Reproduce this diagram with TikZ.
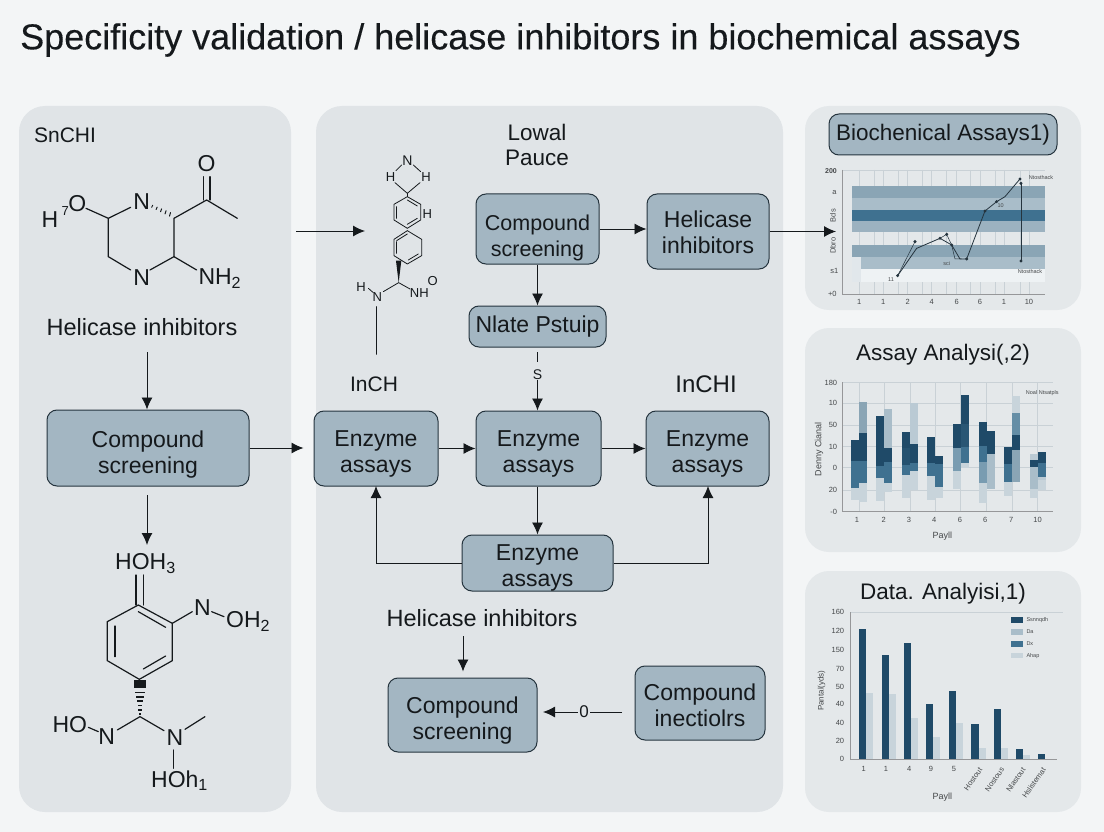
\documentclass[tikz,border=0pt]{standalone}
\usepackage{fontspec}
\setmainfont{Liberation Sans}
\newfontfamily\titlefont[FakeBold=0.25]{Liberation Sans}
\usetikzlibrary{arrows.meta,calc}
\definecolor{pagebg}{HTML}{F3F5F6}
\definecolor{panelbg}{HTML}{E0E4E7}
\definecolor{rightbg}{HTML}{E4E8EA}
\definecolor{boxfill}{HTML}{A3B6C2}
\definecolor{boxline}{HTML}{25343E}
\definecolor{ink}{HTML}{15191C}
\definecolor{cA}{HTML}{1F4A68}
\definecolor{cB}{HTML}{3F7190}
\definecolor{cC}{HTML}{8AA5B5}
\definecolor{cD}{HTML}{A9BDC9}
\definecolor{cE}{HTML}{C8D4DB}
\definecolor{grid}{HTML}{C9D1D6}
\tikzset{
  panel/.style={fill=panelbg,draw=none,rounded corners=26pt},
  rpanel/.style={fill=rightbg,draw=none,rounded corners=24pt},
  stepbox/.style={draw=boxline,line width=1pt,fill=boxfill,rounded corners=10pt,align=center,text=ink,inner sep=0pt,font=\fontsize{23}{26}\selectfont},
  lbl/.style={text=ink,inner sep=0pt,align=center,font=\fontsize{23.5}{25}\selectfont},
  lblsm/.style={text=ink,inner sep=0pt,align=center,font=\fontsize{21}{25}\selectfont},
  atom/.style={text=ink,inner sep=0pt,font=\fontsize{23}{25}\selectfont},
  atoms/.style={text=ink,inner sep=0pt,font=\fontsize{13}{15}\selectfont},
  conn/.style={draw=ink,line width=0.95pt,-{Latex[length=12pt,width=11pt]}},
  bond/.style={draw=ink,line width=1.2pt,line cap=round},
  bonds/.style={draw=ink,line width=0.8pt,line cap=round},
  tick/.style={text=ink!80,inner sep=0pt,font=\fontsize{7.5}{9}\selectfont},
  tiny/.style={text=ink!80,inner sep=0pt,font=\fontsize{5.5}{7}\selectfont},
  charttitle/.style={text=ink,inner sep=0pt,font=\fontsize{22.5}{25}\selectfont},
  gridl/.style={draw=grid,line width=0.5pt},
  axisl/.style={draw=ink!45,line width=0.6pt},
}
\newcommand{\sbar}[5]{\fill[#5] (#1,#3) rectangle (#2,#4);}
\newcommand{\dn}[1]{\rule{0pt}{\dimexpr 17pt+#1pt+#1pt\relax}}
\begin{document}
\begin{tikzpicture}[x=1pt,y=-1pt]
\useasboundingbox (0,0) rectangle (1104,832);
\fill[pagebg] (0,0) rectangle (1104,832);
\node[text=ink,inner sep=0pt,anchor=west,font=\titlefont\fontsize{36}{38}\selectfont] (title) at (20,40) {Specificity validation / helicase inhibitors in biochemical assays};

\fill[panel] (19,106) rectangle (291,812);
\fill[panel] (316,106) rectangle (783,812);
\fill[rpanel] (805,106) rectangle (1081,310);
\fill[rpanel] (805,328) rectangle (1081,552);
\fill[rpanel] (805,571) rectangle (1081,812);

% labels
\node[lblsm] (sn) at (65,135) {SnCHI};
\node[lbl] (hi1) at (142,327) {Helicase inhibitors};
\node[lbl,font=\fontsize{22.5}{25.5}\selectfont] (lowal) at (537,145) {Lowal\\Pauce};
\node[lblsm] (inch) at (374,384) {InCH};
\node[lbl,font=\fontsize{24}{25}\selectfont] (inchi) at (706,384) {InCHI};
\node[lbl] (hi2) at (482,618) {Helicase inhibitors};

% step boxes
\node[stepbox,minimum width=202pt,minimum height=76pt] (cs1) at (148,448) {\dn{6}Compound\\screening};
\node[stepbox,minimum width=124pt,minimum height=75pt] (e1) at (376,448.5) {\dn{5}Enzyme\\assays};
\node[stepbox,minimum width=125pt,minimum height=75pt] (e2) at (538.5,448.5) {\dn{5}Enzyme\\assays};
\node[stepbox,minimum width=123pt,minimum height=75pt] (e3) at (707.5,448.5) {\dn{5}Enzyme\\assays};
\node[stepbox,minimum width=123pt,minimum height=70pt,font=\fontsize{21.5}{25.5}\selectfont] (cs2) at (537.5,229) {\dn{8}Compound\\screening};
\node[stepbox,minimum width=122pt,minimum height=75pt] (hb) at (708,231.5) {\dn{1}Helicase\\inhibitors};
\node[stepbox,minimum width=137pt,minimum height=41pt] (np) at (537.5,326.5) {Nlate Pstuip};
\node[stepbox,minimum width=151pt,minimum height=56pt] (e4) at (537.5,563) {\dn{4}Enzyme\\assays};
\node[stepbox,minimum width=149pt,minimum height=74pt] (cs3) at (462.5,715) {\dn{5}Compound\\screening};
\node[stepbox,minimum width=130pt,minimum height=74pt] (ci) at (700,703) {\dn{2}Compound\\inectiolrs};
\node[stepbox,minimum width=228pt,minimum height=41pt,font=\fontsize{22.5}{25}\selectfont] (ba) at (943,134.5) {Biochenical Assays1)};

% connectors
\coordinate (m2tip) at (365,231);
\coordinate (m2tail) at (296,231);
\coordinate (charttip) at (836,231.5);
\coordinate (lowtip) at (147,545);
\coordinate (lowtail) at (147,495);
\coordinate (hi1a) at (147,352);
\coordinate (e1bt) at (376,486);
\coordinate (e3bt) at (708,486);
\draw[conn] (hi1a) -- (cs1.north -| hi1a);
\draw[conn] (lowtail) -- (lowtip);
\draw[conn,shorten >=10pt] (cs1.east) -- (cs1.east -| e1.west);
\draw[conn] (m2tail) -- (m2tip);
\draw[conn] (e1.east) -- (e2.west);
\draw[conn] (e2.east) -- (e3.west);
\draw[conn] (cs2.east) -- (cs2.east -| hb.west);
\draw[conn] (hb.east) -- (charttip);
\draw[conn] (cs2.south -| np.north) -- (np.north);
\node[inner sep=0pt,text=ink,font=\fontsize{14}{15}\selectfont] (sq) at (537.5,375) {S};
\draw[line width=1pt,draw=ink] (537.5,352) -- (537.5,362);
\draw[conn] (sq.south) -- (sq.south |- e2.north);
\draw[conn] (e2.south -| e4.north) -- (e4.north);
\draw[conn] (e4.west) -| (e1bt);
\draw[conn] (e4.east) -| (e3bt);
\coordinate (hi2a) at (463,636);
\draw[conn,shorten >=6pt] (hi2a) -- (hi2a |- cs3.north);
\node[inner sep=1.5pt,fill=panelbg,text=ink,font=\fontsize{17}{19}\selectfont] (zero) at (584,712) {0};
\coordinate (citail) at (622,712);
\coordinate (cshead) at (543,712);
\draw[draw=ink,line width=0.95pt] (citail) -- (zero);
\draw[conn] (zero) -- (cshead);

% molecule 1
\begin{scope}[shift={(0,100)},x=0.3333pt,y=-0.3333pt]
\draw[bond] (258,325) -- (325,355) -- (392,322);
\draw[bond] (325,355) -- (325,470) -- (392,510);
\draw[bond] (450,510) -- (522,470) -- (522,355) -- (620,300) -- (712,355);
\draw[bond] (522,470) -- (590,510);
\draw[bond] (611,300) -- (611,230);
\draw[bond] (630,300) -- (630,230);
\foreach \t in {0,0.2,0.4,0.6,0.8}{
  \draw[bond,line width=1pt] ($(455,322)!\t!(522,355)$) -- ++(3,{-6-6*\t});
}
\node[atom] (m1o) at (232,310) {O};
\node[atom] (m1h) at (150,358) {H};
\node[atoms] (m1s) at (196,334) {7};
\node[atom] (m1n1) at (425,305) {N};
\node[atom] (m1n2) at (425,532) {N};
\node[atom,anchor=west] (m1nh) at (595,535) {NH\textsubscript{2}};
\node[atom] (m1o2) at (620,190) {O};
\end{scope}

% molecule 2
\begin{scope}[shift={(300,110)},x=0.3333pt,y=-0.3333pt]
\draw[bonds] (305,165) -- (288,182);
\draw[bonds] (340,165) -- (362,185);
\draw[bonds] (285,218) -- (322,250) -- (360,218);
\draw[bonds] (322,250) -- (322,260);
\draw[bonds] (322,260) -- (362,283) -- (362,330) -- (322,355) -- (282,330) -- (282,283) -- cycle;
\draw[bonds] (290,290) -- (290,325);
\draw[bonds] (322,270) -- (352,288);
\draw[bonds] (352,325) -- (322,343);
\draw[bonds] (322,362) -- (365,388) -- (365,437) -- (322,462) -- (282,437) -- (282,388) -- cycle;
\draw[bonds] (290,395) -- (290,430);
\draw[bonds] (322,372) -- (290,392);
\draw[bonds] (355,432) -- (325,450);
\fill[ink] (288,452) -- (304,452) -- (296,518) -- cycle;
\draw[bonds] (296,518) -- (250,545);
\draw[bonds] (296,518) -- (330,537);
\draw[bonds] (205,535) -- (220,548);
\draw[bonds] (228,590) -- (228,733);
\node[atoms,font=\fontsize{14}{15}\selectfont] (m2n) at (322,152) {N};
\node[atoms] (m2h1) at (272,200) {H};
\node[atoms] (m2h2) at (378,200) {H};
\node[atoms] (m2h3) at (382,312) {H};
\node[atoms] (m2h4) at (183,530) {H};
\node[atoms] (m2n2) at (232,560) {N};
\node[atoms] (m2nh) at (358,548) {NH};
\node[atoms] (m2o) at (398,513) {O};
\end{scope}

% molecule 3
\begin{scope}[shift={(0,520)},x=0.3333pt,y=-0.3333pt]
\draw[bond] (408,165) -- (408,255);
\draw[bond] (430,165) -- (430,255);
\draw[bond] (415,255) -- (517,310) -- (517,422) -- (418,478) -- (322,422) -- (322,305) -- cycle;
\draw[bond] (415,275) -- (497,322);
\draw[bond] (345,318) -- (345,410);
\draw[bond] (497,408) -- (430,447);
\draw[bond] (517,310) -- (577,275);
\draw[bond] (635,275) -- (672,290);
\fill[ink] (402,480) rectangle (438,505);
\foreach \yy/\w in {515/15,528/12,541/10,554/7,567/5,579/3}{
  \fill[ink] ({420-\w},\yy) rectangle ({420+\w},\yy+5);
}
\draw[bond] (352,630) -- (420,590) -- (492,632);
\draw[bond] (295,635) -- (265,622);
\draw[bond] (555,628) -- (615,590);
\draw[bond] (520,690) -- (520,745);
\node[atom,anchor=west] (m3a) at (345,130) {HOH\textsubscript{3}};
\node[atom] (m3n) at (607,262) {N};
\node[atom,anchor=west] (m3b) at (678,305) {OH\textsubscript{2}};
\node[atom] (m3n2) at (320,650) {N};
\node[atom,anchor=west] (m3c) at (157,615) {HO};
\node[atom] (m3n3) at (525,652) {N};
\node[atom,anchor=west] (m3d) at (453,782) {HOh\textsubscript{1}};
\end{scope}

% chart 1
\begin{scope}[shift={(805,105)},x=0.3333pt,y=-0.3333pt]
\foreach \gx in {163,207,235,280,308,352,380,425,455,497,525,570,598,645,672}{\draw[gridl] (\gx,195) -- (\gx,567);}
\draw[gridl] (113,195) -- (720,195);
\sbar{140}{720}{243}{278}{cC}
\sbar{140}{720}{278}{315}{cD}
\sbar{140}{720}{315}{347}{cB}
\sbar{140}{720}{347}{382}{cC!85}
\sbar{140}{720}{420}{456}{cC}
\sbar{168}{720}{456}{493}{cD}
\sbar{140}{168}{456}{530}{cE!55}
\sbar{168}{720}{493}{530}{cE!30}
\draw[axisl] (113,195) -- (113,567) -- (720,567);
\draw[draw=boxline,line width=0.8pt] (278,512) -- (335,430) -- (405,400) -- (440,420) -- (465,462) -- (485,462) -- (540,318) -- (575,290) -- (600,275) -- (645,222);
\draw[draw=boxline,line width=0.5pt] (278,512) -- (330,410);
\draw[draw=boxline,line width=0.5pt] (405,400) -- (425,388) -- (440,420) -- (450,462) -- (470,462);
\draw[draw=boxline,line width=0.8pt] (648,235) -- (648,468);
\foreach \px/\py in {278/512,330/410,405/400,425/388,440/420,485/462,540/318,575/290,645/222,648/235,648/468}{\fill[boxline] (\px,\py) circle (5);}
\node[tick,font=\bfseries\fontsize{7}{9}\selectfont] (a0) at (78,197) {200};
\node[tick] (a1) at (88,262) {a};
\node[tick,rotate=90] (a2) at (84,332) {Bds};
\node[tick,rotate=90] (a3) at (84,422) {Dbro};
\node[tick] (a4) at (88,498) {s1};
\node[tick] (a5) at (82,567) {+0};
\foreach \lx/\lt in {163/1,235/1,308/2,380/4,455/6,525/6,597/1,672/10}{\node[tick] at (\lx,590) {\lt};}
\node[tiny] (a6) at (708,217) {Ntosthack};
\node[tiny] (a7) at (675,499) {Ntosthack};
\node[tiny] (a8) at (587,303) {10};
\node[tiny] (a9) at (425,475) {sci};
\node[tiny] (a10) at (258,523) {11};
\end{scope}

% chart 2
\node[charttitle] (t2) at (943,355) {Assay Analysi(,2)};
\begin{scope}[shift={(805,330)},x=0.3333pt,y=-0.3333pt]
\foreach \gx in {162,238,315,391,467,545,621,698}{\draw[gridl] (\gx,157) -- (\gx,544);}
\foreach \gy in {157,220,285,350,412,480}{\draw[gridl] (113,\gy) -- (745,\gy);}
\draw[axisl] (113,157) -- (113,544) -- (745,544);
\sbar{138}{162}{330}{393}{cA}\sbar{138}{162}{393}{475}{cB}\sbar{138}{162}{475}{510}{cE}
\sbar{162}{186}{215}{308}{cC}\sbar{162}{186}{308}{393}{cA}\sbar{162}{186}{393}{460}{cB}\sbar{162}{186}{460}{515}{cE}
\sbar{214}{238}{258}{408}{cA}\sbar{214}{238}{408}{443}{cB}\sbar{214}{238}{443}{512}{cE}
\sbar{238}{262}{237}{355}{cD}\sbar{238}{262}{355}{397}{cA}\sbar{238}{262}{397}{460}{cB}\sbar{238}{262}{460}{485}{cE}
\sbar{291}{315}{305}{353}{cA}\sbar{291}{315}{353}{405}{cA!80!cB}\sbar{291}{315}{405}{435}{cB}\sbar{291}{315}{435}{503}{cE}
\sbar{315}{339}{220}{343}{cD!80}\sbar{315}{339}{343}{400}{cA}\sbar{315}{339}{400}{423}{cB}\sbar{315}{339}{423}{480}{cE}
\sbar{367}{391}{320}{400}{cA}\sbar{367}{391}{400}{438}{cB}\sbar{367}{391}{438}{510}{cE}
\sbar{391}{415}{377}{402}{cA}\sbar{391}{415}{402}{470}{cB}\sbar{391}{415}{470}{505}{cE}
\sbar{443}{467}{282}{354}{cA}\sbar{443}{467}{354}{422}{cB!70}\sbar{443}{467}{422}{478}{cE}
\sbar{467}{491}{195}{282}{cA}\sbar{467}{491}{282}{350}{cA!70!cB}\sbar{467}{491}{350}{398}{cB}\sbar{467}{491}{398}{415}{cE}
\sbar{521}{545}{277}{347}{cA}\sbar{521}{545}{347}{397}{cB}\sbar{521}{545}{397}{458}{cB!70}\sbar{521}{545}{458}{520}{cE}
\sbar{545}{569}{303}{373}{cA}\sbar{545}{569}{373}{478}{cD}
\sbar{597}{621}{350}{402}{cA}\sbar{597}{621}{402}{455}{cB}\sbar{597}{621}{455}{497}{cE}
\sbar{621}{645}{198}{249}{cE}\sbar{621}{645}{249}{315}{cB!80}\sbar{621}{645}{315}{360}{cA}\sbar{621}{645}{360}{457}{cC}
\sbar{674}{698}{372}{390}{cD!80}\sbar{674}{698}{390}{410}{cA}\sbar{674}{698}{410}{476}{cD}\sbar{674}{698}{476}{505}{cE}
\sbar{698}{722}{366}{398}{cA}\sbar{698}{722}{398}{440}{cB}\sbar{698}{722}{440}{450}{cD!80}\sbar{698}{722}{450}{480}{cE}
\foreach \ly/\lt in {159/180,220/10,285/50,350/10,414/0,480/20,545/-0}{\node[tick,anchor=east] at (97,\ly) {\lt};}
\foreach \lx/\lt in {156/1,236/2,312/3,388/4,465/6,541/6,619/7,698/10}{\node[tick] at (\lx,571) {\lt};}
\node[tick,rotate=90,font=\fontsize{9}{10}\selectfont] (b1) at (42,358) {Denny Cianal};
\node[tick,font=\fontsize{9}{10}\selectfont] (b2) at (412,619) {Payll};
\node[tiny] (b3) at (712,190) {Noal Ntsatpls};
\end{scope}

% chart 3
\node[charttitle] (t3) at (943,594) {Data. Analyisi,1)};
\begin{scope}[shift={(805,570)},x=0.3333pt,y=-0.3333pt]
\draw[gridl] (135,127) -- (775,127);
\draw[axisl] (135,127) -- (135,568) -- (755,568);
\foreach \xa/\ya/\yb in {162/177/368,230/255/372,297/218/444,363/401/501,432/362/459,499/462/534,567/416/534,632/537/555}{
  \sbar{\xa}{\xa+22}{\ya}{568}{cA}
  \sbar{\xa+22}{\xa+43}{\yb}{568}{cE}
}
\sbar{700}{720}{552}{568}{cA}
\foreach \ly/\lt in {127/160,183/120,239/150,296/70,350/50,403/40,458/40,512/20,568/0}{\node[tick,anchor=east] at (118,\ly) {\lt};}
\foreach \lx/\lt in {176/1,243/1,313/4,378/9,447/5}{\node[tick] at (\lx,598) {\lt};}
\foreach \lx/\lt in {488/Hostout,554/Nostous,617/Nlastout,678/Hslistemat}{\node[tiny,rotate=55,anchor=north east,font=\fontsize{7.5}{8}\selectfont] at (\lx+32,590) {\lt};}
\node[tick,rotate=90,font=\fontsize{8}{10}\selectfont] (c1) at (50,362) {Pantal(yds)};
\node[tick,font=\fontsize{9}{10}\selectfont] (c2) at (412,683) {Payll};
\sbar{617}{653}{141}{158}{cA}
\sbar{617}{653}{177}{194}{cD}
\sbar{617}{653}{213}{230}{cB}
\sbar{617}{653}{248}{265}{cE}
\node[tiny,anchor=west] (c3) at (664,150) {Ssnnqdh};
\node[tiny,anchor=west] (c4) at (664,185) {Da};
\node[tiny,anchor=west] (c5) at (664,221) {Dx};
\node[tiny,anchor=west] (c6) at (664,257) {Ahap};
\end{scope}
\end{tikzpicture}
\end{document}
